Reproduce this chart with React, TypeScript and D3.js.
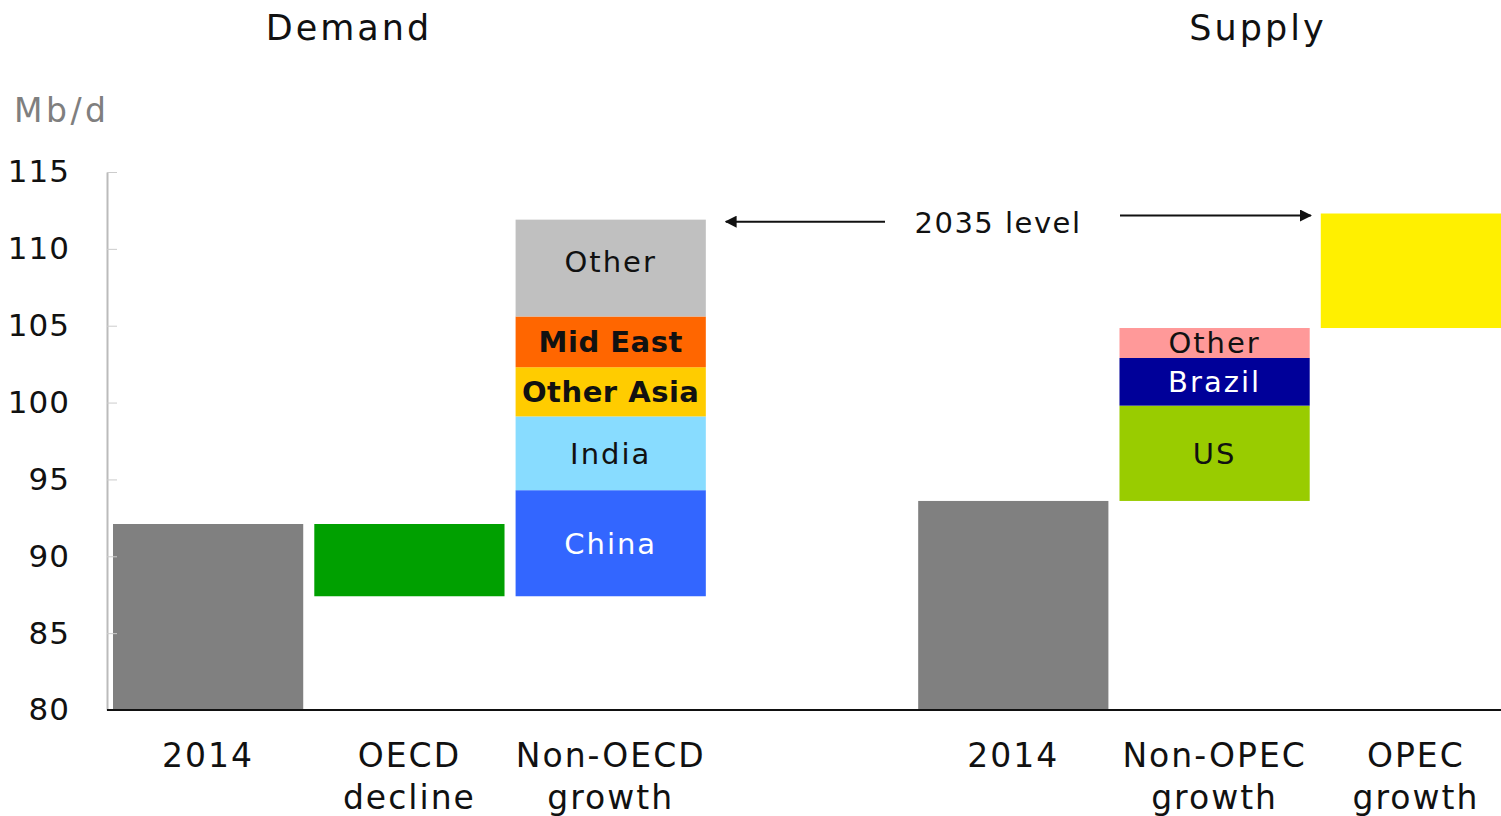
import * as React from "react";
import * as d3 from "d3";

// categories (one empty slot separates demand and supply)
const slots = ["d2014", "oecd", "nonoecd", "gap", "s2014", "nonopec", "opec"];
const slotLabels: Record<string, string[]> = {
  d2014: ["2014"],
  oecd: ["OECD", "decline"],
  nonoecd: ["Non-OECD", "growth"],
  s2014: ["2014"],
  nonopec: ["Non-OPEC", "growth"],
  opec: ["OPEC", "growth"],
};

// demand side, Mb/d
const demand2014 = 92.1;
const oecdDecline = -4.7;
const nonOecdNames = ["China", "India", "Other Asia", "Mid East", "Other"];
const nonOecdValues = [6.9, 4.8, 3.2, 3.3, 6.3];

// supply side, Mb/d
const supply2014 = 93.6;
const nonOpecNames = ["US", "Brazil", "Other"];
const nonOpecValues = [6.2, 3.1, 1.95];
const opecGrowth = 7.45;

const yTicks = [80, 85, 90, 95, 100, 105, 110, 115];

const W = 1501;
const H = 816;
const FONT = "'DejaVu Sans', sans-serif";

type Seg = { slot: string; y0: number; y1: number; color: string; label?: string; textColor?: string; bold?: boolean };

function drawChart(svgRef: React.RefObject<SVGSVGElement>) {
  const svg = d3.select(svgRef.current);
  svg.selectAll("*").remove();

  const x = d3.scaleBand().domain(slots).range([113, 1511]).paddingInner(0.055).paddingOuter(0);
  const y = d3.scaleLinear().domain([80, 115]).range([710, 172]);

  // build waterfall segments
  const segs: Seg[] = [];
  segs.push({ slot: "d2014", y0: 80, y1: demand2014, color: "#808080" });
  const afterDecline = demand2014 + oecdDecline;
  segs.push({ slot: "oecd", y0: afterDecline, y1: demand2014, color: "#00a000" });
  const nonOecdColors = ["#3366ff", "#88dcff", "#ffcc00", "#ff6600", "#c0c0c0"];
  const nonOecdText = ["#ffffff", "#111111", "#111111", "#111111", "#111111"];
  let acc = afterDecline;
  nonOecdValues.forEach((v, i) => {
    segs.push({
      slot: "nonoecd",
      y0: acc,
      y1: acc + v,
      color: nonOecdColors[i],
      label: nonOecdNames[i],
      textColor: nonOecdText[i],
      bold: nonOecdNames[i] === "Mid East" || nonOecdNames[i] === "Other Asia",
    });
    acc += v;
  });
  const demandTotal = acc;

  segs.push({ slot: "s2014", y0: 80, y1: supply2014, color: "#808080" });
  const nonOpecColors = ["#99cc00", "#000099", "#ff9999"];
  const nonOpecText = ["#111111", "#ffffff", "#111111"];
  acc = supply2014;
  nonOpecValues.forEach((v, i) => {
    segs.push({ slot: "nonopec", y0: acc, y1: acc + v, color: nonOpecColors[i], label: nonOpecNames[i], textColor: nonOpecText[i] });
    acc += v;
  });
  segs.push({ slot: "opec", y0: acc, y1: acc + opecGrowth, color: "#fff000" });
  const supplyTotal = acc + opecGrowth;

  // bars
  svg
    .append("g")
    .selectAll("rect")
    .data(segs)
    .join("rect")
    .attr("x", (d) => x(d.slot)!)
    .attr("y", (d) => y(d.y1))
    .attr("width", x.bandwidth())
    .attr("height", (d) => y(d.y0) - y(d.y1))
    .attr("fill", (d) => d.color);

  // labels inside bars (the tall grey "Other" sits a bit above its middle)
  svg
    .append("g")
    .selectAll("text")
    .data(segs.filter((d) => d.label))
    .join("text")
    .attr("x", (d) => x(d.slot)! + x.bandwidth() / 2)
    .attr("y", (d) => (y(d.y0) + y(d.y1)) / 2 - (d.slot === "nonoecd" && d.label === "Other" ? 7 : 0))
    .attr("dy", "0.36em")
    .attr("text-anchor", "middle")
    .attr("font-family", FONT)
    .attr("font-size", 29)
    .attr("font-weight", (d) => (d.bold ? "bold" : "normal"))
    .attr("letter-spacing", (d) => (d.bold ? 0.5 : 2))
    .attr("fill", (d) => d.textColor!)
    .text((d) => d.label!);

  // y axis
  const yAxis = d3.axisLeft(y).tickValues(yTicks).tickSizeInner(-10).tickSizeOuter(0).tickPadding(37);
  const ga = svg.append("g").attr("transform", "translate(107,0)").call(yAxis);
  ga.select(".domain").attr("stroke", "#bbbbbb").attr("stroke-width", 2);
  ga.selectAll(".tick line").attr("stroke", "#cccccc");
  ga.selectAll(".tick text")
    .attr("font-family", FONT)
    .attr("font-size", 31)
    .attr("letter-spacing", 1)
    .attr("fill", "#111");

  // x axis line
  svg.append("line").attr("x1", 107).attr("x2", W).attr("y1", 710).attr("y2", 710).attr("stroke", "#111").attr("stroke-width", 2);

  // category labels
  const cats = svg
    .append("g")
    .selectAll("text")
    .data(slots.filter((s) => slotLabels[s]))
    .join("text")
    .attr("text-anchor", "middle")
    .attr("font-family", FONT)
    .attr("font-size", 33)
    .attr("letter-spacing", 2)
    .attr("fill", "#111");
  cats
    .selectAll("tspan")
    .data((s) => slotLabels[s].map((t) => ({ s, t })))
    .join("tspan")
    .attr("x", (d) => x(d.s)! + x.bandwidth() / 2)
    .attr("y", (d, i) => 767 + i * 42)
    .text((d) => d.t);

  // titles
  svg.append("text").attr("x", 349).attr("y", 40).attr("text-anchor", "middle").attr("font-family", FONT).attr("font-size", 35).attr("letter-spacing", 3).attr("fill", "#111").text("Demand");
  svg.append("text").attr("x", 1258).attr("y", 40).attr("text-anchor", "middle").attr("font-family", FONT).attr("font-size", 35).attr("letter-spacing", 3).attr("fill", "#111").text("Supply");
  svg.append("text").attr("x", 14).attr("y", 122).attr("font-family", FONT).attr("font-size", 33).attr("letter-spacing", 3.5).attr("fill", "#7f7f7f").text("Mb/d");

  // 2035 level annotation
  const defs = svg.append("defs");
  defs
    .append("marker")
    .attr("id", "ah")
    .attr("viewBox", "0 0 10 10")
    .attr("refX", 9)
    .attr("refY", 5)
    .attr("markerWidth", 6)
    .attr("markerHeight", 6)
    .attr("markerUnits", "strokeWidth")
    .attr("orient", "auto")
    .append("path")
    .attr("d", "M0,0L10,5L0,10Z")
    .attr("fill", "#111");

  const leftTip = x("nonoecd")! + x.bandwidth() + 20;
  const rightTip = x("opec")! - 10;
  svg.append("line").attr("x1", 885).attr("x2", leftTip).attr("y1", y(demandTotal) + 2).attr("y2", y(demandTotal) + 2).attr("stroke", "#111").attr("stroke-width", 2).attr("marker-end", "url(#ah)");
  svg.append("line").attr("x1", 1120).attr("x2", rightTip).attr("y1", y(supplyTotal) + 2).attr("y2", y(supplyTotal) + 2).attr("stroke", "#111").attr("stroke-width", 2).attr("marker-end", "url(#ah)");
  svg.append("text").attr("x", 998).attr("y", 233).attr("text-anchor", "middle").attr("font-family", FONT).attr("font-size", 29).attr("letter-spacing", 1.5).attr("fill", "#111").text("2035 level");
}

const App: React.FunctionComponent = () => {
  const svg = React.useRef<SVGSVGElement>(null);
  React.useEffect(() => {
    drawChart(svg);
  }, [svg]);

  return (
    <svg
      ref={svg}
      width={W}
      height={H}
      style={{ position: "absolute", left: 0, top: 0, background: "#fff", overflow: "hidden" }}
    />
  );
};

export default App;
